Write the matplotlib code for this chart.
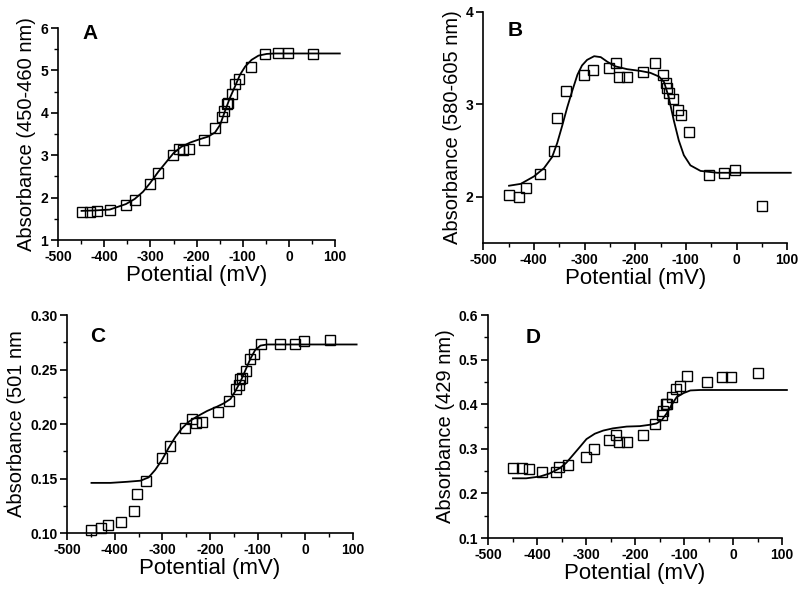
import numpy as np
import matplotlib
matplotlib.use('Agg')
import matplotlib.pyplot as plt
from matplotlib.ticker import MultipleLocator, FormatStrFormatter

plt.rcParams.update({'font.family': ['Liberation Sans', 'DejaVu Sans'],
                     'axes.unicode_minus': False,
                     'xtick.labelsize': 10,
                     'ytick.labelsize': 10,
                     'axes.linewidth': 1.2})

# ---- panel A : 450-460 nm ----
xA = [-449, -430, -415, -388, -353, -334, -301, -283, -252, -238, -230, -216, -183,
      -160, -144, -140, -135, -131, -124, -116, -109, -82, -53, -24, -3, 52]
yA = [1.67, 1.67, 1.69, 1.71, 1.83, 1.94, 2.32, 2.59, 3.00, 3.15, 3.12, 3.14, 3.35,
      3.64, 3.91, 4.05, 4.21, 4.24, 4.45, 4.69, 4.81, 5.09, 5.39, 5.40, 5.40, 5.38]
fitxA = [-449, -420, -388, -353, -334, -316, -301, -283, -265, -250, -233, -214, -193,
         -175, -160, -149, -139, -128, -117, -106, -95, -81, -66, -48, -30, 0, 50, 110]
fityA = [1.69, 1.70, 1.72, 1.85, 1.97, 2.14, 2.34, 2.61, 2.85, 3.05, 3.20, 3.30, 3.38,
         3.44, 3.54, 3.72, 4.03, 4.35, 4.62, 4.90, 5.09, 5.25, 5.35, 5.39, 5.40, 5.40, 5.40, 5.40]

# ---- panel B : 580-605 nm ----
xB = [-449, -430, -415, -387, -360, -354, -336, -301, -284, -252, -238, -232, -216, -184,
      -161, -145, -140, -137, -134, -125, -116, -109, -93, -55, -24, -4, 51]
yB = [2.02, 2.00, 2.09, 2.25, 2.49, 2.85, 3.14, 3.32, 3.37, 3.39, 3.45, 3.30, 3.30, 3.35,
      3.45, 3.32, 3.23, 3.18, 3.12, 3.06, 2.94, 2.88, 2.70, 2.24, 2.26, 2.29, 1.90]
fitxB = [-449, -426, -400, -380, -364, -354, -344, -334, -324, -314, -305, -295, -281,
         -268, -255, -239, -216, -189, -170, -153, -143, -134, -124, -114, -104, -91,
         -71, -38, 0, 50, 107]
fityB = [2.12, 2.14, 2.22, 2.31, 2.43, 2.58, 2.77, 2.97, 3.15, 3.32, 3.42, 3.48, 3.52,
         3.51, 3.46, 3.41, 3.38, 3.36, 3.34, 3.30, 3.24, 3.08, 2.83, 2.61, 2.45, 2.34,
         2.28, 2.26, 2.26, 2.26, 2.26]

# ---- panel C : 501 nm ----
xC = [-449, -430, -415, -387, -359, -353, -335, -300, -283, -252, -238, -230, -216, -184,
      -160, -145, -140, -136, -133, -124, -115, -108, -92, -52, -22, -3, 52]
yC = [0.103, 0.105, 0.107, 0.110, 0.120, 0.136, 0.148, 0.169, 0.180, 0.196, 0.205, 0.201,
      0.202, 0.211, 0.221, 0.232, 0.236, 0.241, 0.242, 0.249, 0.260, 0.264, 0.273, 0.273,
      0.273, 0.276, 0.277]
fitxC = [-449, -409, -374, -346, -329, -315, -301, -287, -273, -259, -245, -227, -206,
         -185, -171, -157, -147, -136, -126, -115, -105, -94, -80, -50, 0, 50, 108]
fityC = [0.146, 0.146, 0.147, 0.148, 0.151, 0.158, 0.167, 0.178, 0.188, 0.196, 0.202,
         0.207, 0.212, 0.216, 0.219, 0.223, 0.230, 0.239, 0.249, 0.260, 0.268, 0.272,
         0.273, 0.273, 0.273, 0.273, 0.273]

# ---- panel D : 429 nm ----
xD = [-449, -431, -416, -389, -362, -355, -336, -301, -283, -253, -239, -232, -216, -184,
      -160, -145, -142, -137, -134, -124, -117, -109, -93, -53, -23, -4, 52]
yD = [0.257, 0.257, 0.255, 0.249, 0.249, 0.259, 0.263, 0.281, 0.299, 0.320, 0.330, 0.316,
      0.316, 0.331, 0.356, 0.376, 0.386, 0.400, 0.400, 0.416, 0.434, 0.442, 0.464, 0.451,
      0.461, 0.461, 0.471]
fitxD = [-449, -422, -394, -374, -353, -340, -326, -312, -299, -282, -265, -245, -217,
         -190, -170, -156, -145, -135, -125, -115, -101, -87, -67, -30, 0, 50, 110]
fityD = [0.234, 0.234, 0.238, 0.245, 0.257, 0.269, 0.287, 0.305, 0.322, 0.334, 0.341,
         0.346, 0.350, 0.351, 0.354, 0.357, 0.365, 0.380, 0.399, 0.416, 0.425, 0.431,
         0.432, 0.432, 0.432, 0.432, 0.432]

panels = [
    ('A', [0.0725, 0.593, 0.3465, 0.3595], xA, yA, fitxA, fityA, (1, 6), 1, 0.5,
     'Absorbance (450-460 nm)', '%d', (0.115, 0.976)),
    ('B', [0.604, 0.588, 0.380, 0.392], xB, yB, fitxB, fityB, (1.5, 4), 1, None,
     'Absorbance (580-605 nm)', '%d', (0.105, 0.92)),
    ('C', [0.084, 0.0966, 0.357, 0.3694], xC, yC, fitxC, fityC, (0.10, 0.30), 0.05, 0.025,
     'Absorbance (501 nm', '%.2f', (0.105, 0.90)),
    ('D', [0.610, 0.088, 0.3675, 0.378], xD, yD, fitxD, fityD, (0.1, 0.6), 0.1, 0.05,
     'Absorbance (429 nm)', '%.1f', (0.153, 0.90)),
]

fig = plt.figure(figsize=(8, 5.9), dpi=100)
for (letter, rect, x, y, fx, fy, ylim, ymaj, ymin, ylab, fmt, lpos) in panels:
    ax = fig.add_axes(rect)
    ax.plot(fx, fy, '-', color='black', lw=1.3, clip_on=False)
    ax.plot(x, y, 's', mfc='none', mec='black', ms=6.5, mew=1.0, clip_on=False)
    ax.set_xlim(-500, 100)
    ax.set_ylim(*ylim)
    ax.xaxis.set_major_locator(MultipleLocator(100))
    ax.xaxis.set_minor_locator(MultipleLocator(50))
    ax.yaxis.set_major_locator(MultipleLocator(ymaj))
    if ymin:
        ax.yaxis.set_minor_locator(MultipleLocator(ymin))
    ax.yaxis.set_major_formatter(FormatStrFormatter(fmt))
    ax.spines['top'].set_visible(False)
    ax.spines['right'].set_visible(False)
    ax.tick_params(which='major', direction='out', length=5, width=1.2, pad=2)
    ax.tick_params(which='minor', direction='out', length=3, width=1.0)
    for t in ax.get_xticklabels() + ax.get_yticklabels():
        t.set_fontweight('bold')
    ax.set_xlabel('Potential (mV)', fontsize=16, labelpad=1)
    ax.set_ylabel(ylab, fontsize=14.5, labelpad=3)
    ax.text(lpos[0], lpos[1], letter, transform=ax.transAxes, fontsize=15,
            fontweight='bold', ha='center', va='center')

fig.savefig('out.png', dpi=100)
